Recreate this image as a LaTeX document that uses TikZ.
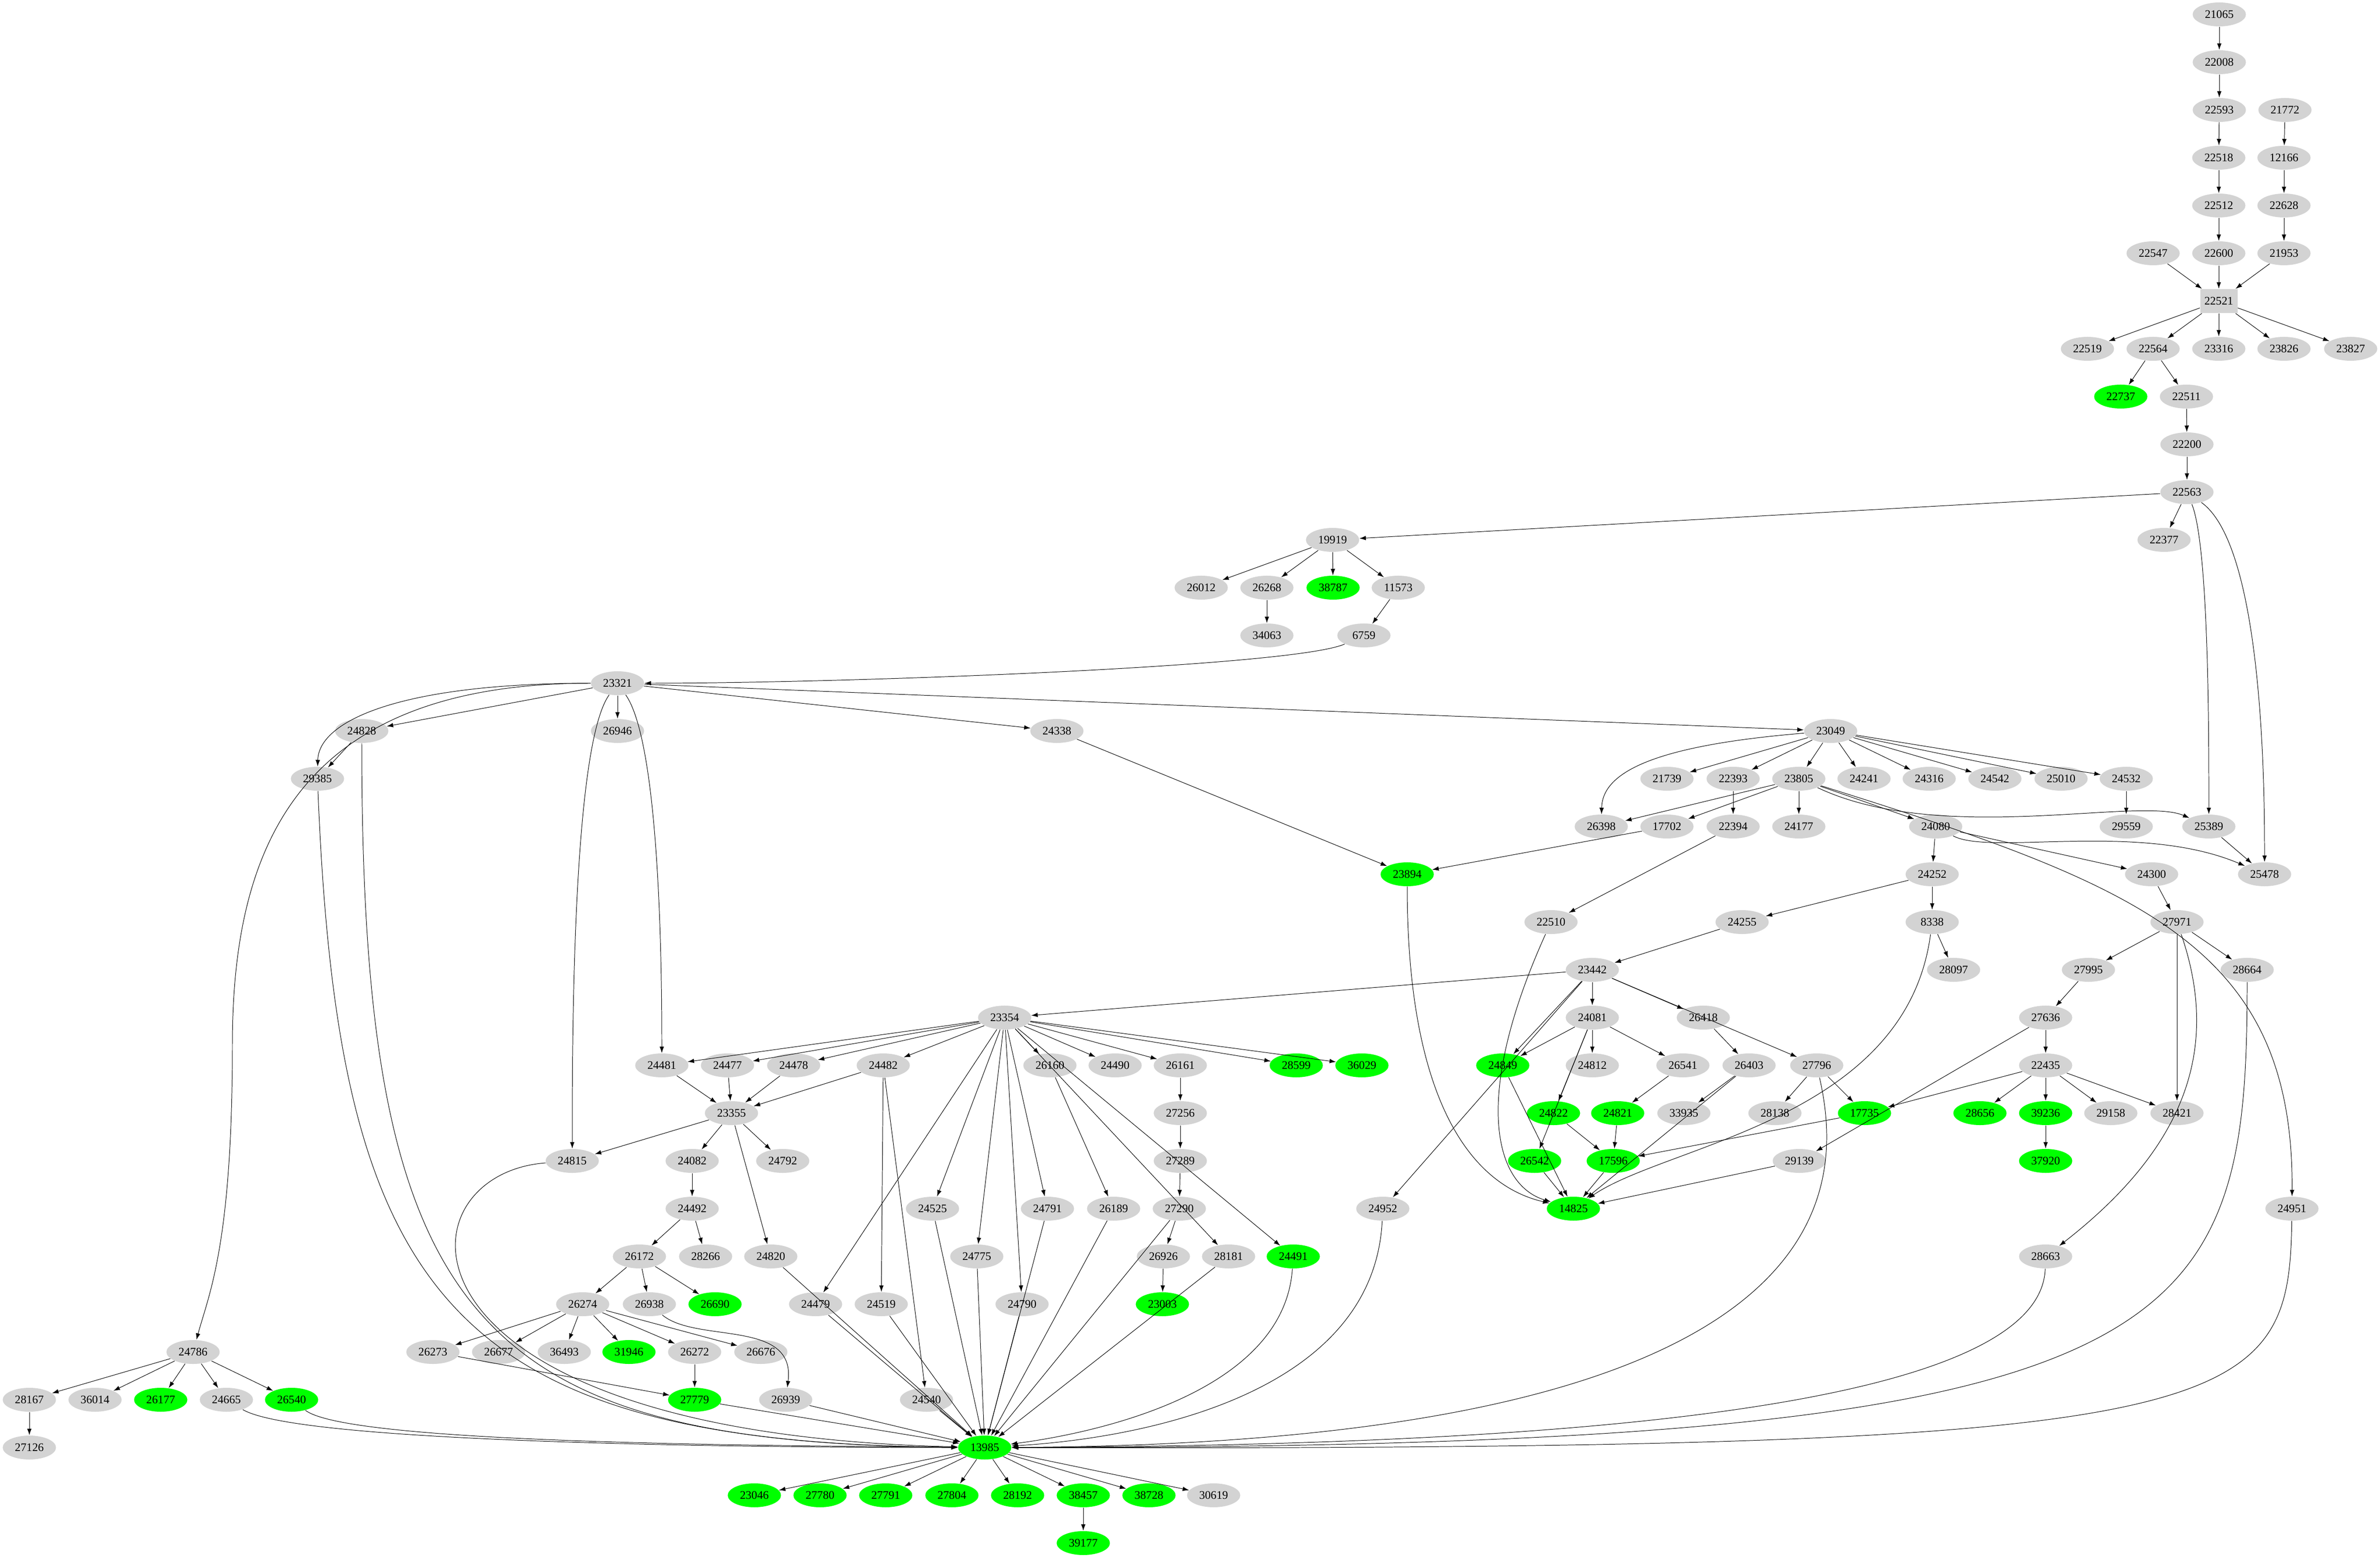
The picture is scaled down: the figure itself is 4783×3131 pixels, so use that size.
\documentclass[tikz,border=0pt]{standalone}
\usepackage{fontspec}
\setmainfont{Liberation Serif}
\usetikzlibrary{arrows.meta,shapes.geometric}
\definecolor{nodegray}{HTML}{D3D3D3}
\definecolor{nodegreen}{HTML}{00FF00}
\tikzset{
  gnode/.style={ellipse,fill=nodegray,draw=none,minimum width=1.07cm,minimum height=0.48cm,inner sep=0pt,font=\fontsize{6.6}{8}\selectfont},
  vnode/.style={gnode,fill=nodegreen},
  bnode/.style={rectangle,fill=nodegray,draw=none,minimum width=0.75cm,minimum height=0.48cm,inner sep=0pt,font=\fontsize{6.6}{8}\selectfont},
  e/.style={draw=black,line width=0.28pt,-{Latex[length=0.13cm,width=0.09cm]}}
}
\newcommand\GNodeX[3]{\node[gnode] (n#1) at (#2,#3) {#1};}
\newcommand\VNodeX[3]{\node[vnode] (n#1) at (#2,#3) {#1};}
\begin{document}
\begin{tikzpicture}[x=0.01cm,y=-0.01cm]
\useasboundingbox (0,0) rectangle (4783,3131);
% rank 0-10
\GNodeX{21065}{4460}{29}
\GNodeX{22008}{4460}{125}
\GNodeX{22593}{4460}{221} \GNodeX{21772}{4592}{221}
\GNodeX{22518}{4459}{317} \GNodeX{12166}{4590}{317}
\GNodeX{22512}{4459}{413} \GNodeX{22628}{4590}{413}
\GNodeX{22547}{4327}{509} \GNodeX{22600}{4459}{509} \GNodeX{21953}{4590}{509}
\node[bnode] (n22521) at (4459,605) {22521};
\GNodeX{22519}{4195}{701} \GNodeX{22564}{4327}{701} \GNodeX{23316}{4459}{701} \GNodeX{23826}{4590}{701} \GNodeX{23827}{4724}{701}
\VNodeX{22737}{4262}{797} \GNodeX{22511}{4394}{797}
\GNodeX{22200}{4395}{893}
\GNodeX{22563}{4395}{989}
% rank 11-15
\GNodeX{19919}{2678}{1085} \GNodeX{22377}{4349}{1085}
\GNodeX{26012}{2414}{1181} \GNodeX{26268}{2546}{1181} \VNodeX{38787}{2679}{1181} \GNodeX{11573}{2810}{1181}
\GNodeX{34063}{2546}{1277} \GNodeX{6759}{2741}{1277}
\GNodeX{23321}{1241}{1373}
\GNodeX{24828}{727}{1469} \GNodeX{26946}{1241}{1469} \GNodeX{24338}{2124}{1469} \GNodeX{23049}{3679}{1469}
% rank 16
\GNodeX{29385}{638}{1565} \GNodeX{21739}{3350}{1565} \GNodeX{22393}{3483}{1565} \GNodeX{23805}{3615}{1565} \GNodeX{24241}{3746}{1565} \GNodeX{24316}{3877}{1565} \GNodeX{24542}{4009}{1565} \GNodeX{25010}{4142}{1565} \GNodeX{24532}{4273}{1565}
% rank 17
\GNodeX{26398}{3218}{1661} \GNodeX{17702}{3350}{1661} \GNodeX{22394}{3483}{1661} \GNodeX{24177}{3615}{1661} \GNodeX{24080}{3890}{1661} \GNodeX{29559}{4273}{1661} \GNodeX{25389}{4439}{1661}
% rank 18
\VNodeX{23894}{2828}{1757} \GNodeX{24252}{3883}{1757} \GNodeX{24300}{4324}{1757} \GNodeX{25478}{4551}{1757}
% rank 19
\GNodeX{22510}{3117}{1853} \GNodeX{24255}{3501}{1853} \GNodeX{8338}{3883}{1853} \GNodeX{27971}{4375}{1853}
% rank 20
\GNodeX{23442}{3200}{1949} \GNodeX{28097}{3926}{1949} \GNodeX{27995}{4197}{1949} \GNodeX{28664}{4516}{1949}
% rank 21
\GNodeX{23354}{2019}{2045} \GNodeX{24081}{3200}{2045} \GNodeX{26418}{3423}{2045} \GNodeX{27636}{4111}{2045}
% rank 22
\GNodeX{24481}{1330}{2141} \GNodeX{24477}{1462}{2141} \GNodeX{24478}{1595}{2141} \GNodeX{24482}{1775}{2141} \GNodeX{26160}{2110}{2141} \GNodeX{24490}{2241}{2141} \GNodeX{26161}{2372}{2141} \VNodeX{28599}{2605}{2141} \VNodeX{36029}{2737}{2141} \VNodeX{24849}{3020}{2141} \GNodeX{24812}{3200}{2141} \GNodeX{26541}{3382}{2141} \GNodeX{26403}{3515}{2141} \GNodeX{27796}{3651}{2141} \GNodeX{22435}{4111}{2141}
% rank 23
\GNodeX{23355}{1470}{2237} \GNodeX{27256}{2372}{2237} \VNodeX{24822}{3122}{2237} \VNodeX{24821}{3251}{2237} \GNodeX{33935}{3384}{2237} \GNodeX{28138}{3567}{2237} \VNodeX{17735}{3747}{2237} \VNodeX{28656}{3979}{2237} \VNodeX{39236}{4111}{2237} \GNodeX{29158}{4242}{2237} \GNodeX{28421}{4375}{2237}
% rank 24
\GNodeX{24815}{1150}{2333} \GNodeX{24082}{1391}{2333} \GNodeX{24792}{1573}{2333} \GNodeX{27289}{2372}{2333} \VNodeX{26542}{3084}{2333} \VNodeX{17596}{3242}{2333} \GNodeX{29139}{3616}{2333} \VNodeX{37920}{4111}{2333}
% rank 25
\GNodeX{24492}{1391}{2429} \GNodeX{24525}{1874}{2429} \GNodeX{24791}{2105}{2429} \GNodeX{26189}{2238}{2429} \GNodeX{27290}{2370}{2429} \GNodeX{24952}{2779}{2429} \VNodeX{14825}{3162}{2429} \GNodeX{24951}{4606}{2429}
% rank 26
\GNodeX{26172}{1285}{2525} \GNodeX{28266}{1418}{2525} \GNodeX{24820}{1549}{2525} \GNodeX{24775}{1963}{2525} \GNodeX{26926}{2338}{2525} \GNodeX{28181}{2469}{2525} \VNodeX{24491}{2599}{2525} \GNodeX{28663}{4111}{2525}
% rank 27
\GNodeX{26274}{1171}{2621} \GNodeX{26938}{1305}{2621} \VNodeX{26690}{1437}{2621} \GNodeX{24479}{1639}{2621} \GNodeX{24519}{1771}{2621} \GNodeX{24790}{2054}{2621} \VNodeX{23003}{2336}{2621}
% rank 28
\GNodeX{24786}{388}{2717} \GNodeX{26273}{870}{2717} \GNodeX{26677}{1002}{2717} \GNodeX{36493}{1134}{2717} \VNodeX{31946}{1264}{2717} \GNodeX{26272}{1396}{2717} \GNodeX{26676}{1529}{2717}
% rank 29
\GNodeX{28167}{59}{2813} \GNodeX{36014}{191}{2813} \VNodeX{26177}{323}{2813} \GNodeX{24665}{455}{2813} \VNodeX{26540}{586}{2813} \VNodeX{27779}{1396}{2813} \GNodeX{26939}{1579}{2813} \GNodeX{24540}{1862}{2813}
% rank 30
\GNodeX{27126}{59}{2909} \VNodeX{13985}{1979}{2909}
% rank 31-32
\VNodeX{23046}{1516}{3005} \VNodeX{27780}{1648}{3005} \VNodeX{27791}{1780}{3005} \VNodeX{27804}{1913}{3005} \VNodeX{28192}{2045}{3005} \VNodeX{38457}{2177}{3005} \VNodeX{38728}{2309}{3005} \GNodeX{30619}{2439}{3005}
\VNodeX{39177}{2177}{3101}
% straight edges
\foreach \a/\b in {21065/22008,22008/22593,22593/22518,22518/22512,22512/22600,22600/22521,22547/22521,21772/12166,12166/22628,22628/21953,21953/22521,22521/22519,22521/22564,22521/23316,22521/23826,22521/23827,22564/22737,22564/22511,22511/22200,22200/22563,22563/19919,22563/22377,19919/26012,19919/26268,19919/38787,19919/11573,26268/34063,11573/6759,23321/24828,23321/26946,23321/24338,23321/23049,24828/29385,24338/23894,23049/21739,23049/22393,23049/23805,23049/24241,23049/24316,23049/24542,23049/25010,23049/24532,22393/22394,23805/26398,23805/17702,23805/24177,23805/24080,24532/29559,25389/25478,17702/23894,22394/22510,24080/24252,24080/24300,24252/24255,24252/8338,24300/27971,8338/28097,24255/23442,27971/27995,27971/28664,27971/28421,27995/27636,23442/23354,23442/24081,23442/26418,23442/24849,23442/24952,23442/27796,24081/24849,24081/24812,24081/26541,24081/24822,24081/26542,26418/26403,27636/22435,27636/29139,26541/24821,26403/33935,27796/28138,27796/17735,22435/17735,22435/28656,22435/39236,22435/29158,22435/28421,39236/37920,24822/17596,24821/17596,17735/17596,26542/14825,17596/14825,29139/14825,26403/14825,24849/14825,23354/24481,23354/24477,23354/24478,23354/24482,23354/26160,23354/24490,23354/26161,23354/28599,23354/36029,23354/24525,23354/24775,23354/24791,23354/24790,23354/24479,23354/28181,23354/24491,24481/23355,24477/23355,24478/23355,24482/23355,23355/24815,23355/24082,23355/24792,23355/24820,26160/26189,26161/27256,27256/27289,27289/27290,27290/26926,26926/23003,24082/24492,24492/26172,24492/28266,26172/26274,26172/26938,26172/26690,26274/26273,26274/26677,26274/36493,26274/31946,26274/26272,26274/26676,26272/27779,26273/27779,24786/28167,24786/36014,24786/26177,24786/24665,24786/26540,28167/27126,24482/24519,24482/24540,13985/23046,13985/27780,13985/27791,13985/27804,13985/28192,13985/38457,13985/38728,13985/30619,38457/39177,27779/13985,26939/13985,24540/13985,24479/13985,24519/13985,24790/13985,24820/13985,24525/13985,24775/13985,24791/13985,26189/13985,27290/13985,28181/13985}
  {\draw[e] (n\a) -- (n\b);}
% curved edges
\draw[e] (n6759) .. controls (2600,1340) and (1700,1373) .. (n23321);
\draw[e] (n23321) .. controls (600,1373) and (467,1700) .. (467,2100) .. controls (467,2500) and (420,2600) .. (n24786);
\draw[e] (n23321) .. controls (800,1373) and (640,1450) .. (n29385);
\draw[e] (n23321) .. controls (1150,1500) and (1150,2100) .. (n24815);
\draw[e] (n23321) .. controls (1330,1500) and (1330,2000) .. (n24481);
\draw[e] (n23049) .. controls (3300,1500) and (3220,1560) .. (n26398);
\draw[e] (n23805) .. controls (3900,1700) and (4300,1600) .. (n25389);
\draw[e] (n23805) .. controls (4300,1780) and (4610,1900) .. (n24951);
\draw[e] (n24080) .. controls (4000,1720) and (4300,1650) .. (n25478);
\draw[e] (n22563) .. controls (4440,1100) and (4439,1500) .. (n25389);
\draw[e] (n22563) .. controls (4550,1100) and (4551,1600) .. (n25478);
\draw[e] (n27971) .. controls (4460,2100) and (4400,2300) .. (n28663);
\draw[e] (n23894) .. controls (2828,2200) and (2950,2380) .. (n14825);
\draw[e] (n22510) .. controls (2960,2200) and (3000,2380) .. (n14825);
\draw[e] (n8338) .. controls (3830,2250) and (3350,2300) .. (n14825);
\draw[e] (n26938) .. controls (1400,2700) and (1600,2650) .. (n26939);
\draw[e] (n29385) .. controls (680,2600) and (900,2900) .. (n13985);
\draw[e] (n24828) .. controls (727,2650) and (950,2900) .. (n13985);
\draw[e] (n24815) .. controls (790,2360) and (760,2880) .. (n13985);
\draw[e] (n24665) .. controls (600,2900) and (1500,2909) .. (n13985);
\draw[e] (n26540) .. controls (700,2900) and (1500,2905) .. (n13985);
\draw[e] (n24491) .. controls (2580,2800) and (2200,2880) .. (n13985);
\draw[e] (n24952) .. controls (2760,2800) and (2300,2890) .. (n13985);
\draw[e] (n27796) .. controls (3710,2400) and (3700,2900) .. (n13985);
\draw[e] (n28663) .. controls (4100,2850) and (3000,2905) .. (n13985);
\draw[e] (n28664) .. controls (4516,2700) and (4400,2910) .. (n13985);
\draw[e] (n24951) .. controls (4600,2850) and (4500,2915) .. (n13985);
\end{tikzpicture}
\end{document}
